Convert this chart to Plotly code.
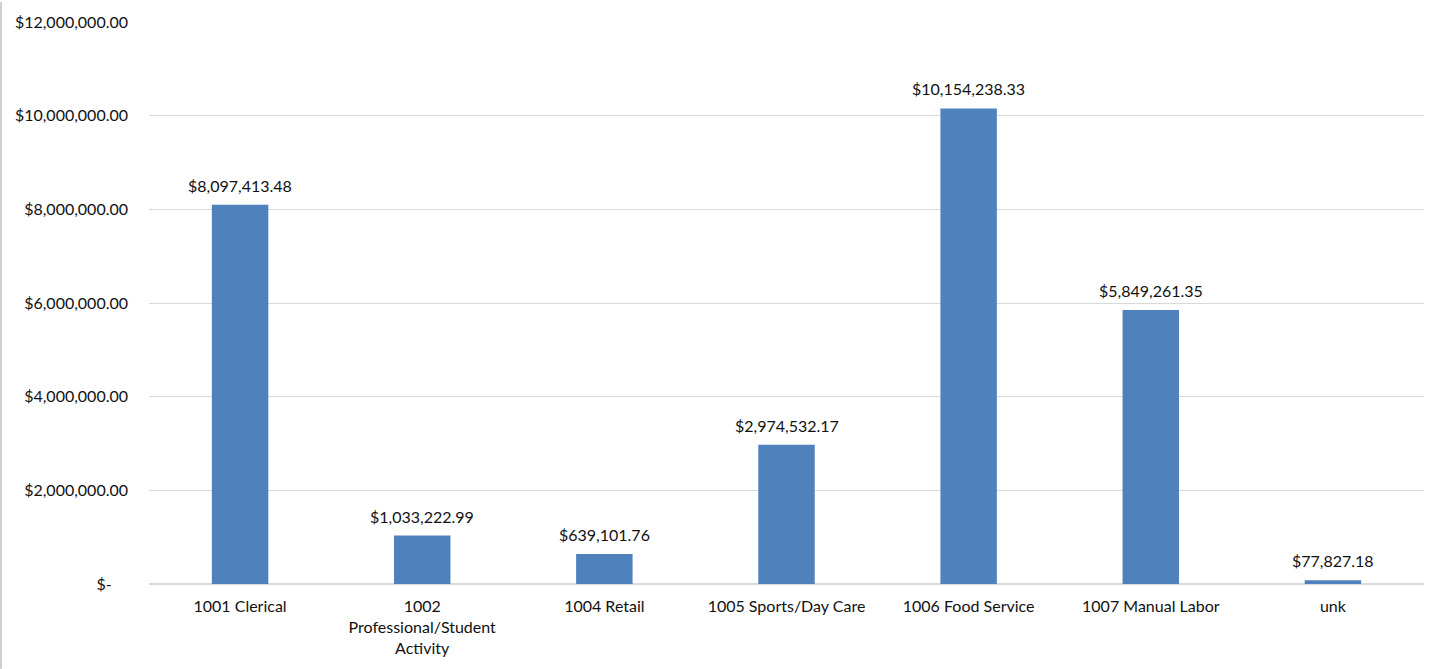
import plotly.graph_objects as go

# Wage totals by job classification
categories = [
    "1001 Clerical",
    "1002<br>Professional/Student<br>Activity",
    "1004 Retail",
    "1005 Sports/Day Care",
    "1006 Food Service",
    "1007 Manual Labor",
    "unk",
]
values = [8097413.48, 1033222.99, 639101.76, 2974532.17, 10154238.33, 5849261.35, 77827.18]

tick_vals = [0, 2000000, 4000000, 6000000, 8000000, 10000000, 12000000]
tick_text = ["$-\u00a0\u00a0\u00a0\u00a0", "$2,000,000.00", "$4,000,000.00", "$6,000,000.00",
             "$8,000,000.00", "$10,000,000.00", "$12,000,000.00"]

W, H = 1437, 669
ML, MR, MT, MB = 149, 13, 20, 85
FONT = "Lato"
FS = 16
TXT = "#111111"

labels = ["${:,.2f}".format(v) for v in values]

fig = go.Figure(
    go.Bar(
        x=categories,
        y=values,
        marker=dict(color="#4F81BD", line=dict(width=0)),
        hoverinfo="x+y",
    )
)

# value labels above each bar, positioned from the same values
for cat, val, lab in zip(categories, values, labels):
    fig.add_annotation(
        x=cat, y=val, text=lab, showarrow=False,
        yanchor="bottom", yshift=8,
        font=dict(family=FONT, size=FS, color=TXT),
    )

fig.update_layout(
    width=W,
    height=H,
    margin=dict(l=ML, r=MR, t=MT, b=MB),
    paper_bgcolor="white",
    plot_bgcolor="white",
    bargap=0.69,
    showlegend=False,
    font=dict(family=FONT, size=FS, color=TXT),
    xaxis=dict(
        showgrid=False,
        showline=False,
        ticks="",
        ticklabelstandoff=11,
        tickfont=dict(family=FONT, size=FS, color=TXT),
        tickangle=0,
    ),
    yaxis=dict(
        range=[0, 12000000],
        tickvals=tick_vals,
        ticktext=tick_text,
        showgrid=True,
        gridcolor="#D9D9D9",
        gridwidth=1,
        zeroline=True,
        zerolinecolor="#D9D9D9",
        zerolinewidth=1.5,
        showline=False,
        ticks="",
        ticklabelstandoff=20,
        tickfont=dict(family=FONT, size=FS, color=TXT),
    ),
    shapes=[
        dict(
            type="line",
            xref="paper",
            yref="paper",
            x0=-(ML - 1) / (W - ML - MR),
            x1=-(ML - 1) / (W - ML - MR),
            y0=-MB / (H - MT - MB),
            y1=1 + MT / (H - MT - MB),
            line=dict(color="#BFBFBF", width=1.5),
        )
    ],
)

fig.write_html("out.html")
